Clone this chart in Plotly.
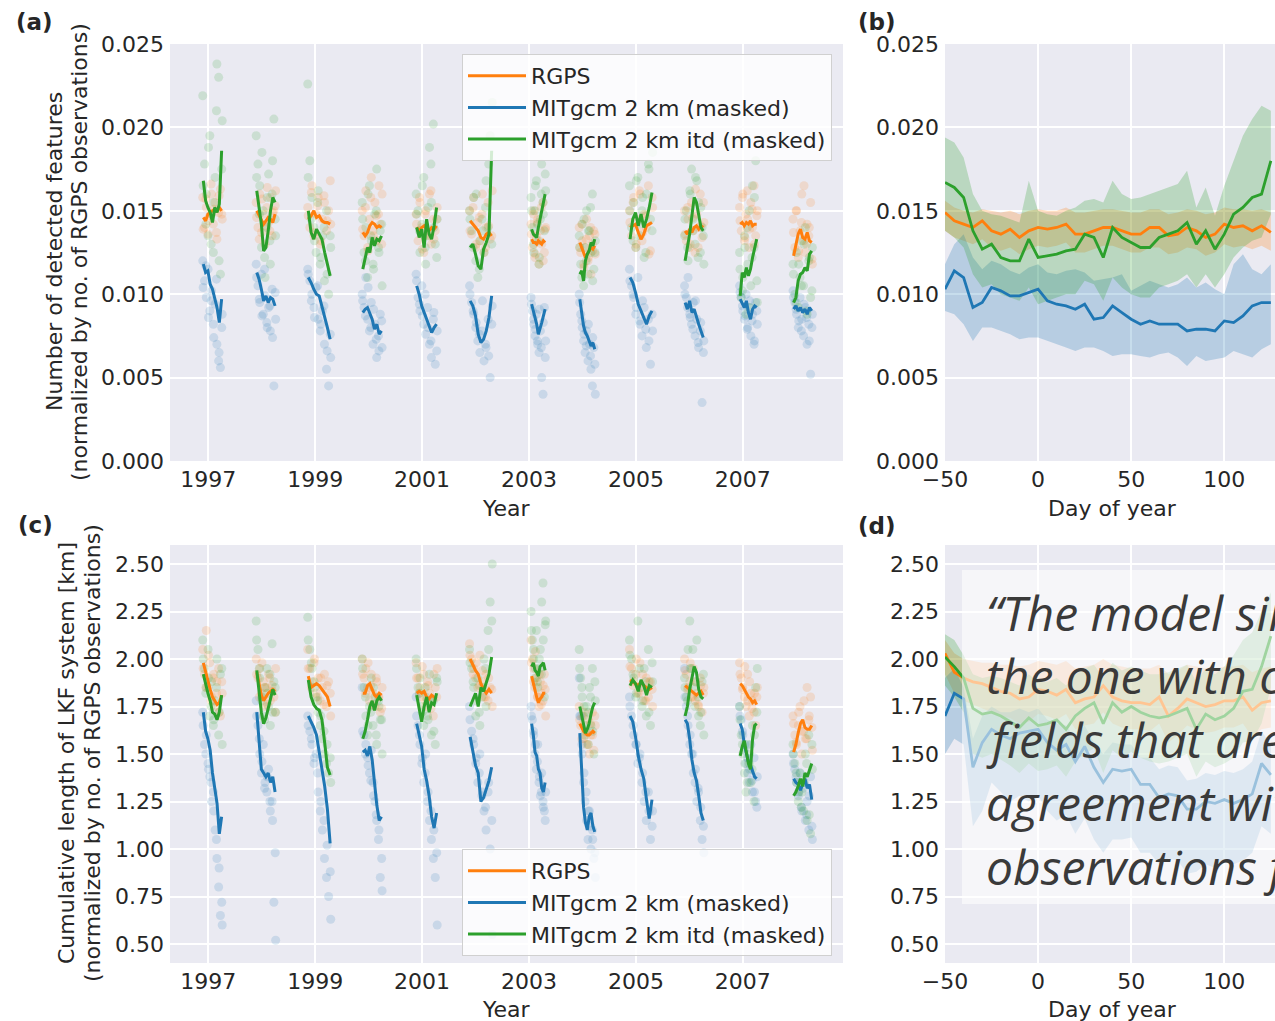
import numpy as np
import plotly.graph_objects as go

W, H = 1275, 1021
C_O, C_B, C_G = "#ff7f0e", "#1f77b4", "#2ca02c"
TXT = "#262626"
FONT = "DejaVu Sans"

season_years = [1997, 1998, 1999, 2000, 2001, 2002, 2003, 2004, 2005, 2006, 2007, 2008]
season_start_doy = [-34, -34, -47, -40, -37, -37, 18, -18, -40, -29, -18, -18]
season_end_doy = [91, 91, 102, 88, 99, 110, 110, 84, 110, 95, 95, 106]
year_ticks = [1997, 1999, 2001, 2003, 2005, 2007]

a_rgps_line = [
    [0.0146, 0.0144, 0.0148, 0.0149, 0.0150, 0.0151, 0.0150, 0.0152, 0.0150],
    [0.0150, 0.0147, 0.0144, 0.0142, 0.0144, 0.0146, 0.0145, 0.0143, 0.0148],
    [0.0145, 0.0147, 0.0150, 0.0146, 0.0147, 0.0144, 0.0143, 0.0143, 0.0142],
    [0.0137, 0.0135, 0.0137, 0.0141, 0.0143, 0.0142, 0.0140, 0.0141, 0.0140],
    [0.0140, 0.0138, 0.0140, 0.0141, 0.0139, 0.0138, 0.0140, 0.0139, 0.0141],
    [0.0144, 0.0142, 0.0140, 0.0138, 0.0134, 0.0133, 0.0136, 0.0137, 0.0135],
    [0.0133, 0.0131, 0.0131, 0.0130, 0.0132, 0.0131, 0.0130, 0.0132, 0.0131],
    [0.0131, 0.0128, 0.0126, 0.0122, 0.0124, 0.0126, 0.0128, 0.0127, 0.0129],
    [0.0140, 0.0141, 0.0142, 0.0137, 0.0133, 0.0136, 0.0141, 0.0142, 0.0143],
    [0.0138, 0.0136, 0.0139, 0.0137, 0.0140, 0.0141, 0.0139, 0.0141, 0.0140],
    [0.0142, 0.0143, 0.0141, 0.0143, 0.0142, 0.0144, 0.0141, 0.0142, 0.0142],
    [0.0123, 0.0130, 0.0136, 0.0139, 0.0134, 0.0133, 0.0137, 0.0132, 0.0131],
]
a_mit_line = [
    [0.0118, 0.0113, 0.0114, 0.0106, 0.0103, 0.0098, 0.0092, 0.0083, 0.0097],
    [0.0113, 0.0109, 0.0103, 0.0096, 0.0099, 0.0095, 0.0098, 0.0097, 0.0093],
    [0.0110, 0.0107, 0.0103, 0.0100, 0.0099, 0.0093, 0.0087, 0.0080, 0.0073],
    [0.0089, 0.0091, 0.0092, 0.0088, 0.0085, 0.0079, 0.0082, 0.0076, 0.0078],
    [0.0105, 0.0100, 0.0093, 0.0089, 0.0085, 0.0081, 0.0077, 0.0080, 0.0082],
    [0.0096, 0.0093, 0.0087, 0.0076, 0.0071, 0.0073, 0.0078, 0.0086, 0.0099],
    [0.0094, 0.0090, 0.0086, 0.0082, 0.0076, 0.0079, 0.0083, 0.0087, 0.0091],
    [0.0097, 0.0089, 0.0081, 0.0077, 0.0075, 0.0072, 0.0069, 0.0071, 0.0067],
    [0.0110, 0.0107, 0.0101, 0.0094, 0.0090, 0.0086, 0.0082, 0.0087, 0.0090],
    [0.0095, 0.0091, 0.0096, 0.0089, 0.0091, 0.0086, 0.0082, 0.0078, 0.0074],
    [0.0097, 0.0094, 0.0092, 0.0096, 0.0089, 0.0085, 0.0091, 0.0093, 0.0092],
    [0.0091, 0.0093, 0.0090, 0.0092, 0.0089, 0.0091, 0.0088, 0.0092, 0.0090],
]
a_itd_line = [
    [0.0168, 0.0156, 0.0152, 0.0149, 0.0143, 0.0152, 0.0149, 0.0154, 0.0186],
    [0.0162, 0.0152, 0.0142, 0.0126, 0.0128, 0.0138, 0.0150, 0.0158, 0.0155],
    [0.0150, 0.0137, 0.0133, 0.0139, 0.0136, 0.0133, 0.0125, 0.0117, 0.0111],
    [0.0115, 0.0122, 0.0128, 0.0125, 0.0134, 0.0129, 0.0133, 0.0132, 0.0135],
    [0.0140, 0.0134, 0.0139, 0.0128, 0.0145, 0.0136, 0.0133, 0.0141, 0.0152],
    [0.0128, 0.0130, 0.0124, 0.0117, 0.0115, 0.0127, 0.0131, 0.0136, 0.0186],
    [0.0139, 0.0136, 0.0135, 0.0134, 0.0140, 0.0145, 0.0150, 0.0155, 0.0160],
    [0.0112, 0.0114, 0.0108, 0.0120, 0.0124, 0.0126, 0.0131, 0.0129, 0.0133],
    [0.0133, 0.0145, 0.0149, 0.0141, 0.0148, 0.0140, 0.0145, 0.0152, 0.0161],
    [0.0120, 0.0127, 0.0136, 0.0147, 0.0158, 0.0155, 0.0146, 0.0140, 0.0138],
    [0.0099, 0.0113, 0.0110, 0.0116, 0.0111, 0.0115, 0.0122, 0.0128, 0.0133],
    [0.0095, 0.0098, 0.0108, 0.0112, 0.0113, 0.0116, 0.0114, 0.0124, 0.0126],
]
a_rgps_pts = [
    [0.0158, 0.0140, 0.0152, 0.0136, 0.0147, 0.0160, 0.0142, 0.0155, 0.0133, 0.0149, 0.0163, 0.0145],
    [0.0155, 0.0140, 0.0160, 0.0137, 0.0148, 0.0130, 0.0152, 0.0143, 0.0158, 0.0135, 0.0150, 0.0162],
    [0.0152, 0.0140, 0.0165, 0.0135, 0.0148, 0.0158, 0.0130, 0.0145, 0.0155, 0.0138, 0.0150, 0.0142],
    [0.0150, 0.0135, 0.0162, 0.0128, 0.0145, 0.0170, 0.0138, 0.0155, 0.0132, 0.0148, 0.0142, 0.0160],
    [0.0148, 0.0132, 0.0155, 0.0140, 0.0125, 0.0150, 0.0136, 0.0160, 0.0130, 0.0145, 0.0138, 0.0152],
    [0.0150, 0.0136, 0.0158, 0.0128, 0.0143, 0.0132, 0.0148, 0.0125, 0.0140, 0.0155, 0.0133, 0.0162],
    [0.0142, 0.0128, 0.0150, 0.0122, 0.0135, 0.0145, 0.0118, 0.0138, 0.0130, 0.0155, 0.0125, 0.0140],
    [0.0140, 0.0125, 0.0132, 0.0118, 0.0128, 0.0145, 0.0120, 0.0135, 0.0112, 0.0130, 0.0138, 0.0124],
    [0.0150, 0.0135, 0.0158, 0.0128, 0.0145, 0.0160, 0.0132, 0.0148, 0.0140, 0.0165, 0.0126, 0.0152],
    [0.0150, 0.0132, 0.0145, 0.0128, 0.0155, 0.0138, 0.0125, 0.0148, 0.0140, 0.0160, 0.0134, 0.0143],
    [0.0152, 0.0138, 0.0160, 0.0132, 0.0148, 0.0145, 0.0128, 0.0155, 0.0140, 0.0165, 0.0135, 0.0150],
    [0.0145, 0.0128, 0.0150, 0.0122, 0.0138, 0.0160, 0.0132, 0.0125, 0.0142, 0.0135, 0.0155, 0.0118],
]
a_rgps_pts2 = [
    [0.0139, 0.0157, 0.0144, 0.0166, 0.0151, 0.0137, 0.0159, 0.0148],
    [0.0146, 0.0133, 0.0157, 0.0141, 0.0164, 0.0138, 0.0149, 0.0153],
    [0.0147, 0.0161, 0.0137, 0.0153, 0.0132, 0.0159, 0.0144, 0.0168],
    [0.0139, 0.0152, 0.0126, 0.0158, 0.0135, 0.0147, 0.0165, 0.0130],
    [0.0142, 0.0158, 0.0127, 0.0148, 0.0135, 0.0162, 0.0133, 0.0145],
    [0.0138, 0.0152, 0.0130, 0.0146, 0.0160, 0.0128, 0.0141, 0.0135],
    [0.0136, 0.0148, 0.0124, 0.0143, 0.0132, 0.0152, 0.0120, 0.0139],
    [0.0128, 0.0142, 0.0116, 0.0133, 0.0122, 0.0140, 0.0126, 0.0136],
    [0.0143, 0.0155, 0.0130, 0.0162, 0.0137, 0.0147, 0.0124, 0.0158],
    [0.0136, 0.0152, 0.0130, 0.0146, 0.0163, 0.0128, 0.0141, 0.0155],
    [0.0144, 0.0158, 0.0134, 0.0162, 0.0139, 0.0151, 0.0130, 0.0147],
    [0.0137, 0.0150, 0.0126, 0.0143, 0.0165, 0.0130, 0.0140, 0.0121],
]
a_mit_pts = [
    [0.0120, 0.0108, 0.0098, 0.0115, 0.0090, 0.0102, 0.0082, 0.0094, 0.0070, 0.0060, 0.0056, 0.0088],
    [0.0118, 0.0105, 0.0095, 0.0112, 0.0088, 0.0099, 0.0083, 0.0092, 0.0078, 0.0103, 0.0045, 0.0085],
    [0.0115, 0.0108, 0.0100, 0.0092, 0.0104, 0.0085, 0.0078, 0.0090, 0.0070, 0.0055, 0.0045, 0.0062],
    [0.0100, 0.0092, 0.0110, 0.0085, 0.0078, 0.0095, 0.0070, 0.0082, 0.0062, 0.0075, 0.0088, 0.0068],
    [0.0112, 0.0098, 0.0090, 0.0105, 0.0082, 0.0076, 0.0092, 0.0070, 0.0062, 0.0085, 0.0058, 0.0078],
    [0.0105, 0.0095, 0.0088, 0.0080, 0.0072, 0.0065, 0.0078, 0.0060, 0.0068, 0.0085, 0.0050, 0.0093],
    [0.0098, 0.0090, 0.0082, 0.0075, 0.0088, 0.0070, 0.0065, 0.0078, 0.0050, 0.0040, 0.0092, 0.0072],
    [0.0100, 0.0088, 0.0080, 0.0072, 0.0065, 0.0078, 0.0060, 0.0070, 0.0055, 0.0045, 0.0068, 0.0040],
    [0.0115, 0.0105, 0.0098, 0.0088, 0.0110, 0.0082, 0.0075, 0.0092, 0.0068, 0.0085, 0.0058, 0.0078],
    [0.0105, 0.0098, 0.0110, 0.0088, 0.0082, 0.0095, 0.0075, 0.0085, 0.0068, 0.0078, 0.0035, 0.0072],
    [0.0105, 0.0098, 0.0090, 0.0085, 0.0100, 0.0080, 0.0092, 0.0075, 0.0088, 0.0070, 0.0095, 0.0082],
    [0.0102, 0.0095, 0.0088, 0.0080, 0.0098, 0.0085, 0.0075, 0.0092, 0.0070, 0.0082, 0.0052, 0.0088],
]
a_mit_pts2 = [
    [0.0104, 0.0117, 0.0086, 0.0096, 0.0074, 0.0109, 0.0065, 0.0080],
    [0.0110, 0.0097, 0.0087, 0.0115, 0.0080, 0.0093, 0.0074, 0.0101],
    [0.0112, 0.0096, 0.0086, 0.0105, 0.0082, 0.0093, 0.0066, 0.0076],
    [0.0096, 0.0087, 0.0104, 0.0080, 0.0091, 0.0073, 0.0066, 0.0084],
    [0.0108, 0.0094, 0.0087, 0.0100, 0.0080, 0.0072, 0.0089, 0.0066],
    [0.0100, 0.0090, 0.0083, 0.0076, 0.0096, 0.0070, 0.0063, 0.0082],
    [0.0094, 0.0085, 0.0079, 0.0072, 0.0091, 0.0068, 0.0083, 0.0062],
    [0.0095, 0.0084, 0.0076, 0.0069, 0.0082, 0.0063, 0.0074, 0.0058],
    [0.0108, 0.0100, 0.0092, 0.0084, 0.0096, 0.0079, 0.0072, 0.0088],
    [0.0100, 0.0092, 0.0086, 0.0079, 0.0096, 0.0071, 0.0083, 0.0065],
    [0.0101, 0.0093, 0.0087, 0.0079, 0.0096, 0.0084, 0.0072, 0.0090],
    [0.0098, 0.0091, 0.0084, 0.0078, 0.0094, 0.0086, 0.0072, 0.0080],
]
a_itd_pts = [
    [0.0219, 0.0178, 0.0160, 0.0135, 0.0195, 0.0148, 0.0125, 0.0170, 0.0238, 0.0230, 0.0112, 0.0204],
    [0.0195, 0.0178, 0.0165, 0.0128, 0.0150, 0.0110, 0.0140, 0.0172, 0.0118, 0.0160, 0.0205, 0.0135],
    [0.0226, 0.0180, 0.0158, 0.0140, 0.0125, 0.0162, 0.0118, 0.0135, 0.0108, 0.0150, 0.0100, 0.0128],
    [0.0155, 0.0125, 0.0140, 0.0110, 0.0165, 0.0132, 0.0118, 0.0148, 0.0175, 0.0128, 0.0138, 0.0105],
    [0.0160, 0.0150, 0.0125, 0.0142, 0.0170, 0.0118, 0.0135, 0.0188, 0.0155, 0.0202, 0.0130, 0.0145],
    [0.0150, 0.0138, 0.0158, 0.0120, 0.0110, 0.0132, 0.0145, 0.0125, 0.0168, 0.0140, 0.0195, 0.0215],
    [0.0158, 0.0140, 0.0125, 0.0150, 0.0168, 0.0132, 0.0118, 0.0145, 0.0178, 0.0155, 0.0138, 0.0162],
    [0.0135, 0.0118, 0.0142, 0.0105, 0.0128, 0.0150, 0.0112, 0.0138, 0.0125, 0.0160, 0.0115, 0.0132],
    [0.0165, 0.0140, 0.0155, 0.0128, 0.0170, 0.0135, 0.0150, 0.0122, 0.0160, 0.0178, 0.0145, 0.0185],
    [0.0135, 0.0150, 0.0120, 0.0162, 0.0175, 0.0145, 0.0130, 0.0168, 0.0155, 0.0125, 0.0140, 0.0118],
    [0.0125, 0.0098, 0.0110, 0.0135, 0.0088, 0.0118, 0.0150, 0.0105, 0.0165, 0.0128, 0.0180, 0.0095],
    [0.0118, 0.0100, 0.0125, 0.0092, 0.0110, 0.0132, 0.0105, 0.0140, 0.0088, 0.0120, 0.0098, 0.0128],
]
a_itd_pts2 = [
    [0.0165, 0.0142, 0.0188, 0.0130, 0.0155, 0.0210, 0.0120, 0.0175],
    [0.0170, 0.0148, 0.0185, 0.0122, 0.0158, 0.0132, 0.0180, 0.0145],
    [0.0170, 0.0145, 0.0132, 0.0155, 0.0122, 0.0140, 0.0112, 0.0135],
    [0.0145, 0.0120, 0.0160, 0.0135, 0.0115, 0.0150, 0.0125, 0.0142],
    [0.0148, 0.0138, 0.0165, 0.0128, 0.0152, 0.0178, 0.0140, 0.0122],
    [0.0145, 0.0128, 0.0160, 0.0115, 0.0138, 0.0152, 0.0178, 0.0130],
    [0.0150, 0.0130, 0.0165, 0.0142, 0.0122, 0.0160, 0.0148, 0.0172],
    [0.0128, 0.0110, 0.0145, 0.0120, 0.0138, 0.0152, 0.0108, 0.0125],
    [0.0150, 0.0132, 0.0168, 0.0142, 0.0158, 0.0125, 0.0175, 0.0138],
    [0.0145, 0.0128, 0.0160, 0.0138, 0.0170, 0.0122, 0.0152, 0.0135],
    [0.0115, 0.0102, 0.0128, 0.0140, 0.0092, 0.0122, 0.0158, 0.0108],
    [0.0112, 0.0095, 0.0118, 0.0105, 0.0130, 0.0090, 0.0122, 0.0102],
]

c_rgps_line = [
    [1.98, 1.93, 1.88, 1.84, 1.80, 1.78, 1.76, 1.77, 1.81],
    [1.93, 1.87, 1.81, 1.78, 1.80, 1.82, 1.83, 1.84, 1.83],
    [1.91, 1.85, 1.86, 1.87, 1.86, 1.84, 1.82, 1.80, 1.75],
    [1.82, 1.82, 1.86, 1.87, 1.84, 1.81, 1.80, 1.82, 1.81],
    [1.82, 1.83, 1.82, 1.83, 1.80, 1.79, 1.81, 1.80, 1.79],
    [2.00, 1.97, 1.94, 1.92, 1.87, 1.84, 1.82, 1.84, 1.82],
    [1.91, 1.87, 1.83, 1.80, 1.77, 1.79, 1.80, 1.82, 1.82],
    [1.66, 1.64, 1.62, 1.61, 1.60, 1.60, 1.61, 1.62, 1.61],
    [1.89, 1.88, 1.87, 1.86, 1.88, 1.86, 1.85, 1.84, 1.85],
    [1.86, 1.85, 1.84, 1.83, 1.82, 1.81, 1.82, 1.83, 1.81],
    [1.87, 1.86, 1.84, 1.82, 1.80, 1.79, 1.77, 1.78, 1.76],
    [1.51, 1.55, 1.61, 1.66, 1.68, 1.64, 1.63, 1.63, 1.65],
]
c_mit_line = [
    [1.72, 1.62, 1.58, 1.52, 1.40, 1.33, 1.24, 1.08, 1.17],
    [1.72, 1.58, 1.42, 1.40, 1.38, 1.40, 1.35, 1.38, 1.30],
    [1.70, 1.67, 1.64, 1.60, 1.51, 1.42, 1.33, 1.21, 1.03],
    [1.51, 1.52, 1.49, 1.54, 1.47, 1.35, 1.23, 1.15, 1.17],
    [1.66, 1.60, 1.54, 1.42, 1.36, 1.28, 1.17, 1.11, 1.19],
    [1.59, 1.51, 1.44, 1.40, 1.25, 1.27, 1.31, 1.36, 1.43],
    [1.66, 1.60, 1.51, 1.49, 1.42, 1.40, 1.32, 1.30, 1.35],
    [1.61, 1.40, 1.22, 1.14, 1.10, 1.17, 1.19, 1.12, 1.09],
    [1.70, 1.67, 1.59, 1.49, 1.42, 1.37, 1.26, 1.16, 1.26],
    [1.68, 1.66, 1.58, 1.47, 1.40, 1.36, 1.28, 1.19, 1.15],
    [1.66, 1.63, 1.55, 1.50, 1.46, 1.44, 1.41, 1.38, 1.37],
    [1.37, 1.35, 1.34, 1.31, 1.34, 1.37, 1.32, 1.34, 1.26],
]
c_itd_line = [
    [1.92, 1.86, 1.82, 1.78, 1.72, 1.71, 1.68, 1.72, 1.81],
    [1.94, 1.83, 1.72, 1.66, 1.69, 1.74, 1.79, 1.84, 1.81],
    [1.89, 1.80, 1.76, 1.74, 1.73, 1.68, 1.56, 1.43, 1.39],
    [1.58, 1.62, 1.68, 1.75, 1.78, 1.73, 1.78, 1.80, 1.78],
    [1.81, 1.74, 1.67, 1.75, 1.80, 1.72, 1.77, 1.76, 1.82],
    [1.75, 1.79, 1.82, 1.75, 1.85, 1.83, 1.88, 1.92, 2.01],
    [1.96, 1.98, 1.94, 1.93, 1.91, 1.96, 1.97, 1.98, 1.94],
    [1.75, 1.70, 1.65, 1.61, 1.63, 1.66, 1.71, 1.75, 1.77],
    [1.86, 1.89, 1.87, 1.83, 1.89, 1.86, 1.81, 1.86, 1.85],
    [1.70, 1.75, 1.84, 1.91, 1.96, 1.93, 1.84, 1.80, 1.79],
    [1.49, 1.54, 1.57, 1.51, 1.45, 1.42, 1.58, 1.65, 1.66],
    [1.28, 1.30, 1.33, 1.37, 1.33, 1.40, 1.38, 1.42, 1.45],
]
c_rgps_pts = [
    [2.05, 1.92, 2.15, 1.85, 1.98, 1.80, 1.90, 1.75, 1.88, 1.95, 1.70, 1.82],
    [2.00, 1.90, 1.95, 1.82, 1.88, 1.75, 1.85, 1.92, 1.78, 1.86, 1.80, 1.95],
    [2.05, 1.95, 1.88, 1.98, 1.82, 1.90, 1.78, 1.85, 1.92, 1.75, 1.88, 1.70],
    [2.00, 1.90, 1.95, 1.85, 1.78, 1.92, 1.82, 1.75, 1.88, 1.80, 1.72, 1.85],
    [1.98, 1.90, 1.85, 1.80, 1.92, 1.75, 1.88, 1.82, 1.78, 1.70, 1.85, 1.95],
    [2.08, 2.00, 1.95, 1.90, 1.85, 2.02, 1.88, 1.80, 1.92, 1.78, 1.85, 1.75],
    [2.10, 2.00, 1.95, 1.85, 1.90, 1.80, 1.75, 1.88, 1.82, 1.78, 1.92, 1.70],
    [1.75, 1.65, 1.70, 1.58, 1.62, 1.55, 1.68, 1.50, 1.60, 1.72, 1.52, 1.65],
    [2.05, 1.95, 1.88, 1.92, 1.82, 1.98, 1.85, 1.78, 1.90, 1.80, 1.88, 1.75],
    [2.00, 1.92, 1.85, 1.88, 1.80, 1.95, 1.78, 1.82, 1.75, 1.90, 1.72, 1.85],
    [1.98, 1.90, 1.85, 1.80, 1.75, 1.92, 1.70, 1.82, 1.78, 1.72, 1.65, 1.85],
    [1.70, 1.60, 1.55, 1.65, 1.75, 1.50, 1.62, 1.58, 1.85, 1.68, 1.80, 1.52],
]
c_rgps_pts2 = [
    [1.95, 1.85, 2.02, 1.78, 1.92, 1.82, 1.72, 1.88],
    [1.92, 1.80, 1.98, 1.85, 1.76, 1.90, 1.83, 1.72],
    [1.95, 1.85, 2.00, 1.80, 1.90, 1.76, 1.86, 1.82],
    [1.92, 1.82, 1.98, 1.86, 1.76, 1.90, 1.80, 1.74],
    [1.90, 1.82, 1.96, 1.78, 1.86, 1.74, 1.92, 1.80],
    [2.02, 1.92, 1.98, 1.86, 1.94, 1.80, 1.90, 1.84],
    [1.98, 1.88, 2.04, 1.80, 1.92, 1.76, 1.86, 1.84],
    [1.68, 1.58, 1.72, 1.62, 1.55, 1.66, 1.60, 1.70],
    [1.96, 1.86, 2.00, 1.82, 1.92, 1.78, 1.88, 1.84],
    [1.94, 1.84, 1.98, 1.80, 1.88, 1.76, 1.86, 1.82],
    [1.92, 1.84, 1.96, 1.78, 1.88, 1.74, 1.82, 1.80],
    [1.66, 1.56, 1.72, 1.62, 1.78, 1.58, 1.70, 1.64],
]
c_mit_pts = [
    [1.72, 1.55, 1.60, 1.45, 1.38, 1.25, 1.30, 1.10, 0.95, 0.80, 0.65, 0.60],
    [1.78, 1.65, 1.50, 1.40, 1.55, 1.35, 1.30, 1.42, 1.20, 1.25, 0.72, 0.52],
    [1.70, 1.62, 1.55, 1.45, 1.50, 1.30, 1.20, 1.10, 0.95, 0.85, 0.75, 0.63],
    [1.85, 1.60, 1.55, 1.48, 1.40, 1.52, 1.35, 1.25, 1.15, 1.05, 0.85, 0.78],
    [1.80, 1.65, 1.55, 1.45, 1.35, 1.50, 1.25, 1.15, 1.05, 0.95, 0.85, 0.60],
    [1.75, 1.62, 1.55, 1.45, 1.35, 1.50, 1.28, 1.20, 1.10, 1.30, 1.00, 0.55],
    [1.75, 1.68, 1.60, 1.50, 1.42, 1.55, 1.35, 1.28, 1.40, 1.25, 1.20, 1.30],
    [1.90, 1.70, 1.50, 1.35, 1.25, 1.15, 1.05, 1.20, 1.00, 1.10, 0.95, 0.85],
    [1.80, 1.70, 1.60, 1.55, 1.45, 1.50, 1.35, 1.25, 1.15, 1.30, 1.05, 1.20],
    [1.95, 1.75, 1.65, 1.55, 1.50, 1.40, 1.35, 1.25, 1.30, 1.15, 1.05, 0.98],
    [1.75, 1.68, 1.60, 1.52, 1.45, 1.40, 1.35, 1.55, 1.30, 1.48, 1.25, 1.38],
    [1.50, 1.42, 1.35, 1.28, 1.40, 1.20, 1.32, 1.15, 1.25, 1.10, 1.38, 1.05],
]
c_mit_pts2 = [
    [1.65, 1.50, 1.42, 1.35, 1.20, 1.05, 0.90, 0.72],
    [1.70, 1.58, 1.46, 1.32, 1.38, 1.25, 1.15, 0.98],
    [1.65, 1.58, 1.48, 1.40, 1.25, 1.15, 1.02, 0.88],
    [1.62, 1.50, 1.44, 1.36, 1.28, 1.18, 1.10, 0.95],
    [1.70, 1.60, 1.48, 1.40, 1.30, 1.20, 1.10, 0.98],
    [1.68, 1.58, 1.48, 1.40, 1.30, 1.22, 1.35, 1.15],
    [1.70, 1.62, 1.55, 1.46, 1.38, 1.30, 1.22, 1.15],
    [1.70, 1.55, 1.40, 1.30, 1.20, 1.12, 1.05, 0.98],
    [1.75, 1.65, 1.55, 1.48, 1.40, 1.30, 1.20, 1.12],
    [1.80, 1.70, 1.60, 1.50, 1.42, 1.32, 1.22, 1.12],
    [1.70, 1.62, 1.55, 1.48, 1.42, 1.36, 1.30, 1.22],
    [1.45, 1.38, 1.30, 1.22, 1.35, 1.18, 1.28, 1.12],
]
c_itd_pts = [
    [2.10, 1.95, 1.85, 2.05, 1.70, 1.88, 1.65, 1.78, 2.00, 1.60, 1.92, 1.55],
    [2.20, 2.05, 1.90, 1.80, 1.70, 1.85, 1.95, 1.75, 1.65, 2.08, 1.88, 1.72],
    [2.22, 2.05, 1.95, 1.88, 1.80, 1.72, 1.65, 1.58, 1.50, 1.45, 1.40, 1.35],
    [2.00, 1.85, 1.70, 1.60, 1.75, 1.90, 1.65, 1.80, 1.55, 1.78, 1.68, 1.50],
    [2.00, 1.85, 1.90, 1.75, 1.65, 1.80, 1.70, 1.92, 1.60, 1.78, 1.55, 1.88],
    [2.05, 1.95, 1.85, 1.70, 1.90, 1.65, 1.80, 2.00, 1.75, 2.15, 2.30, 2.50],
    [2.25, 2.10, 2.00, 1.90, 2.15, 1.85, 1.95, 2.05, 2.30, 2.40, 1.80, 2.20],
    [2.05, 1.90, 1.80, 1.70, 1.60, 1.75, 1.55, 1.85, 1.65, 1.95, 1.50, 1.78],
    [2.10, 2.00, 1.90, 1.80, 2.20, 1.85, 1.75, 1.95, 1.70, 2.05, 1.65, 1.88],
    [1.90, 1.80, 2.05, 2.20, 1.95, 1.85, 1.75, 2.10, 1.70, 1.65, 1.88, 1.60],
    [1.75, 1.60, 1.50, 1.40, 1.30, 1.55, 1.45, 1.35, 1.65, 1.25, 1.85, 1.95],
    [1.55, 1.45, 1.35, 1.25, 1.40, 1.30, 1.20, 1.50, 1.15, 1.60, 1.08, 1.42],
]
c_itd_pts2 = [
    [2.00, 1.82, 1.90, 1.75, 1.68, 1.85, 1.72, 1.95],
    [2.10, 1.95, 1.78, 1.68, 1.82, 1.92, 1.72, 1.85],
    [2.10, 1.98, 1.85, 1.78, 1.70, 1.62, 1.55, 1.48],
    [1.95, 1.80, 1.65, 1.72, 1.85, 1.60, 1.75, 1.68],
    [1.95, 1.82, 1.72, 1.85, 1.68, 1.78, 1.62, 1.90],
    [1.98, 1.88, 1.78, 1.72, 1.85, 1.95, 2.05, 2.20],
    [2.15, 2.05, 1.95, 1.88, 2.00, 1.92, 2.10, 2.18],
    [1.95, 1.85, 1.75, 1.65, 1.72, 1.80, 1.62, 1.88],
    [2.02, 1.92, 1.82, 1.95, 1.78, 1.88, 1.72, 1.98],
    [1.85, 1.78, 1.95, 2.05, 1.88, 1.80, 1.72, 1.92],
    [1.68, 1.55, 1.45, 1.35, 1.50, 1.42, 1.60, 1.72],
    [1.50, 1.40, 1.30, 1.22, 1.35, 1.45, 1.18, 1.55],
]

doy = [-50, -45, -40, -35, -30, -25, -20, -15, -10, -5, 0, 5, 10, 15, 20, 25, 30, 35,
       40, 45, 50, 55, 60, 65, 70, 75, 80, 85, 90, 95, 100, 105, 110, 115, 120, 125]
doy_ticks = [-50, 0, 50, 100]

b_rgps = [0.0149, 0.0144, 0.0142, 0.0140, 0.0144, 0.0138, 0.0136, 0.0139, 0.0134, 0.0138, 0.0140, 0.0139,
          0.0140, 0.0142, 0.0136, 0.0136, 0.0138, 0.0140, 0.0140, 0.0138, 0.0136, 0.0136, 0.0140, 0.0140,
          0.0135, 0.0136, 0.0140, 0.0138, 0.0134, 0.0136, 0.0142, 0.0140, 0.0141, 0.0138, 0.0141, 0.0137]
b_rgps_hi = [0.0156, 0.0152, 0.0150, 0.0149, 0.0151, 0.0150, 0.0149, 0.0150, 0.0148, 0.0150, 0.0151, 0.0150,
             0.0150, 0.0152, 0.0149, 0.0149, 0.0150, 0.0151, 0.0151, 0.0150, 0.0149, 0.0149, 0.0151, 0.0151,
             0.0148, 0.0149, 0.0151, 0.0150, 0.0148, 0.0149, 0.0152, 0.0151, 0.0151, 0.0150, 0.0151, 0.0149]
b_rgps_lo = [0.0138, 0.0134, 0.0132, 0.0130, 0.0133, 0.0128, 0.0126, 0.0128, 0.0124, 0.0127, 0.0129, 0.0128,
             0.0129, 0.0131, 0.0125, 0.0125, 0.0127, 0.0129, 0.0129, 0.0127, 0.0125, 0.0125, 0.0128, 0.0128,
             0.0124, 0.0125, 0.0128, 0.0127, 0.0123, 0.0125, 0.0130, 0.0128, 0.0129, 0.0127, 0.0129, 0.0126]
b_mit = [0.0103, 0.0114, 0.0110, 0.0092, 0.0095, 0.0104, 0.0102, 0.0099, 0.0099, 0.0101, 0.0103, 0.0096,
         0.0094, 0.0093, 0.0091, 0.0094, 0.0085, 0.0086, 0.0093, 0.0089, 0.0085, 0.0082, 0.0084, 0.0082,
         0.0082, 0.0082, 0.0078, 0.0079, 0.0079, 0.0078, 0.0084, 0.0083, 0.0087, 0.0093, 0.0095, 0.0095]
b_mit_hi = [0.0118, 0.0130, 0.0136, 0.0122, 0.0115, 0.0120, 0.0118, 0.0114, 0.0112, 0.0116, 0.0118, 0.0113,
            0.0112, 0.0114, 0.0115, 0.0113, 0.0108, 0.0109, 0.0110, 0.0112, 0.0102, 0.0105, 0.0108, 0.0106,
            0.0104, 0.0106, 0.0110, 0.0104, 0.0107, 0.0103, 0.0100, 0.0118, 0.0124, 0.0115, 0.0112, 0.0118]
b_mit_lo = [0.0090, 0.0088, 0.0082, 0.0072, 0.0080, 0.0080, 0.0078, 0.0076, 0.0073, 0.0074, 0.0074, 0.0072,
            0.0070, 0.0068, 0.0066, 0.0068, 0.0068, 0.0066, 0.0063, 0.0064, 0.0064, 0.0063, 0.0062, 0.0064,
            0.0065, 0.0062, 0.0057, 0.0063, 0.0060, 0.0061, 0.0062, 0.0066, 0.0064, 0.0062, 0.0067, 0.0070]
b_itd = [0.0167, 0.0164, 0.0158, 0.0138, 0.0127, 0.0130, 0.0122, 0.0120, 0.0120, 0.0133, 0.0122, 0.0123,
         0.0124, 0.0126, 0.0127, 0.0136, 0.0134, 0.0122, 0.0140, 0.0134, 0.0131, 0.0128, 0.0128, 0.0134,
         0.0136, 0.0138, 0.0143, 0.0130, 0.0138, 0.0127, 0.0136, 0.0148, 0.0152, 0.0158, 0.0160, 0.0180]
b_itd_hi = [0.0194, 0.0191, 0.0182, 0.0160, 0.0150, 0.0148, 0.0147, 0.0145, 0.0143, 0.0168, 0.0150, 0.0148,
            0.0147, 0.0150, 0.0152, 0.0156, 0.0157, 0.0155, 0.0168, 0.0160, 0.0157, 0.0158, 0.0160, 0.0162,
            0.0164, 0.0166, 0.0174, 0.0152, 0.0164, 0.0147, 0.0165, 0.0180, 0.0195, 0.0205, 0.0213, 0.0210]
b_itd_lo = [0.0138, 0.0134, 0.0128, 0.0112, 0.0104, 0.0106, 0.0100, 0.0098, 0.0096, 0.0104, 0.0094, 0.0096,
            0.0098, 0.0100, 0.0100, 0.0108, 0.0106, 0.0096, 0.0110, 0.0104, 0.0100, 0.0098, 0.0098, 0.0104,
            0.0106, 0.0108, 0.0112, 0.0104, 0.0112, 0.0104, 0.0112, 0.0122, 0.0128, 0.0132, 0.0134, 0.0148]

d_rgps = [2.03, 1.93, 1.90, 1.88, 1.87, 1.85, 1.83, 1.82, 1.79, 1.80, 1.84, 1.83, 1.81, 1.84, 1.77, 1.79,
          1.80, 1.86, 1.80, 1.78, 1.77, 1.77, 1.76, 1.80, 1.70, 1.74, 1.79, 1.77, 1.75, 1.76, 1.78, 1.78,
          1.80, 1.73, 1.77, 1.78]
d_rgps_hi = [2.10, 2.03, 2.00, 1.99, 1.98, 1.98, 1.97, 1.97, 1.96, 1.97, 1.99, 1.98, 1.97, 1.99, 1.95, 1.96,
             1.97, 2.00, 1.97, 1.96, 1.95, 1.95, 1.95, 1.97, 1.92, 1.94, 1.97, 1.96, 1.95, 1.95, 1.96, 1.96,
             1.97, 1.93, 1.95, 1.96]
d_rgps_lo = [1.92, 1.82, 1.78, 1.76, 1.74, 1.72, 1.70, 1.69, 1.66, 1.67, 1.71, 1.70, 1.68, 1.71, 1.63, 1.65,
             1.66, 1.72, 1.66, 1.64, 1.63, 1.63, 1.62, 1.66, 1.56, 1.60, 1.65, 1.63, 1.61, 1.62, 1.64, 1.64,
             1.66, 1.59, 1.63, 1.64]
d_mit = [1.70, 1.82, 1.79, 1.43, 1.56, 1.63, 1.60, 1.58, 1.61, 1.62, 1.63, 1.56, 1.52, 1.55, 1.46, 1.54,
         1.43, 1.35, 1.42, 1.41, 1.42, 1.34, 1.34, 1.27, 1.29, 1.28, 1.21, 1.21, 1.25, 1.24, 1.26, 1.24,
         1.26, 1.29, 1.45, 1.39]
d_mit_hi = [1.90, 1.95, 1.85, 1.58, 1.70, 1.75, 1.72, 1.72, 1.74, 1.72, 1.74, 1.68, 1.66, 1.65, 1.58, 1.65,
            1.56, 1.50, 1.56, 1.55, 1.55, 1.48, 1.48, 1.42, 1.44, 1.43, 1.36, 1.37, 1.40, 1.39, 1.41, 1.40,
            1.42, 1.46, 1.62, 1.55]
d_mit_lo = [1.50, 1.58, 1.55, 1.12, 1.20, 1.35, 1.30, 1.25, 1.28, 1.25, 1.28, 1.20, 1.15, 1.18, 1.08, 1.16,
            1.05, 0.98, 1.05, 1.05, 1.06, 0.98, 0.98, 0.92, 0.95, 0.94, 0.87, 0.88, 0.92, 0.90, 0.93, 0.92,
            0.94, 0.98, 1.12, 1.08]
d_itd = [2.01, 1.96, 1.90, 1.74, 1.71, 1.72, 1.70, 1.67, 1.64, 1.69, 1.65, 1.66, 1.68, 1.63, 1.70, 1.74,
         1.77, 1.66, 1.77, 1.72, 1.75, 1.72, 1.70, 1.69, 1.70, 1.72, 1.74, 1.63, 1.71, 1.68, 1.70, 1.74,
         1.83, 1.84, 1.96, 2.12]
d_itd_hi = [2.13, 2.10, 2.02, 1.92, 1.90, 1.91, 1.90, 1.88, 1.86, 1.92, 1.88, 1.88, 1.90, 1.86, 1.92, 1.95,
            1.97, 1.90, 1.98, 1.94, 1.96, 1.94, 1.92, 1.92, 1.93, 1.95, 1.97, 1.88, 1.95, 1.92, 1.96, 2.02,
            2.10, 2.14, 2.25, 2.35]
d_itd_lo = [1.86, 1.80, 1.72, 1.50, 1.48, 1.50, 1.47, 1.44, 1.40, 1.45, 1.41, 1.42, 1.44, 1.38, 1.46, 1.50,
            1.53, 1.40, 1.52, 1.48, 1.51, 1.48, 1.46, 1.45, 1.46, 1.48, 1.50, 1.38, 1.46, 1.43, 1.45, 1.48,
            1.56, 1.57, 1.66, 1.85]

series_names = ["RGPS", "MITgcm 2 km (masked)", "MITgcm 2 km itd (masked)"]
series_colors = [C_O, C_B, C_G]
band_colors = ["rgba(255,127,14,0.25)", "rgba(31,119,180,0.25)", "rgba(44,160,44,0.25)"]

quote_lines = ["\u201cThe model simulation that performs best is",
               "the one with comparable deformation",
               "fields that are in good",
               "agreement with the",
               "observations from RGPS.\u201d"]


def season_xy(values, pad):
    xs, ys = [], []
    for yr, d0, d1, vals in zip(season_years, season_start_doy, season_end_doy, values):
        t = yr + np.linspace(d0 - pad, d1 + pad, len(vals)) / 365.25
        xs += list(t) + [None]
        ys += list(vals) + [None]
    return xs, ys


fig = go.Figure()

for (xa, ya, lines, pts, pts2, leg) in [
    ("x", "y", [a_rgps_line, a_mit_line, a_itd_line], [a_rgps_pts, a_mit_pts, a_itd_pts],
     [a_rgps_pts2, a_mit_pts2, a_itd_pts2], "legend"),
    ("x3", "y3", [c_rgps_line, c_mit_line, c_itd_line], [c_rgps_pts, c_mit_pts, c_itd_pts],
     [c_rgps_pts2, c_mit_pts2, c_itd_pts2], "legend2"),
]:
    for vals, vals2, col in zip(pts, pts2, series_colors):
        sx, sy = season_xy(vals, 4)
        sx2, sy2 = season_xy(vals2, 1)
        fig.add_trace(go.Scatter(x=sx + sx2, y=sy + sy2, mode="markers", xaxis=xa, yaxis=ya,
                                 marker=dict(color=col, size=9, opacity=0.16, line=dict(width=0)),
                                 showlegend=False, hoverinfo="skip"))
    for vals, col, name in zip(lines, series_colors, series_names):
        lx, ly = season_xy(vals, 0)
        fig.add_trace(go.Scatter(x=lx, y=ly, mode="lines", xaxis=xa, yaxis=ya, name=name,
                                 line=dict(color=col, width=3), legend=leg,
                                 legendgroup=leg + name, showlegend=True))

for (xa, ya, data) in [
    ("x2", "y2", [(b_rgps, b_rgps_lo, b_rgps_hi), (b_mit, b_mit_lo, b_mit_hi), (b_itd, b_itd_lo, b_itd_hi)]),
    ("x4", "y4", [(d_rgps, d_rgps_lo, d_rgps_hi), (d_mit, d_mit_lo, d_mit_hi), (d_itd, d_itd_lo, d_itd_hi)]),
]:
    for (m, lo, hi), bc in zip(data, band_colors):
        fig.add_trace(go.Scatter(x=doy + doy[::-1], y=hi + lo[::-1], mode="lines", fill="toself",
                                 fillcolor=bc, line=dict(width=0), xaxis=xa, yaxis=ya,
                                 showlegend=False, hoverinfo="skip"))
    for (m, lo, hi), col in zip(data, series_colors):
        fig.add_trace(go.Scatter(x=doy, y=m, mode="lines", line=dict(color=col, width=2.8),
                                 xaxis=xa, yaxis=ya, showlegend=False))


def px_x(p):
    return p / W


def px_y(p):
    return 1 - p / H


tickfont = dict(family=FONT, size=22, color=TXT)
ax_common = dict(showgrid=True, gridcolor="white", gridwidth=1.6, zeroline=False,
                 showline=False, ticks="", tickfont=tickfont, automargin=False)

year_range = [1997 - 38.3 / 53.45, 1997 + 634.7 / 53.45]
doy_range = [-50, -50 + 330 / 1.862]
ya_ticks = [0.0, 0.005, 0.010, 0.015, 0.020, 0.025]
yc_ticks = [0.50, 0.75, 1.00, 1.25, 1.50, 1.75, 2.00, 2.25, 2.50]

top_dom = [px_y(461), px_y(44)]
bot_dom = [px_y(963), px_y(545)]
left_dom = [px_x(170), px_x(843)]
right_dom = [px_x(945), 1.0]

xt = dict(ticklabelstandoff=3)
yt = dict(ticklabelstandoff=5)
legfont = dict(family=FONT, size=22, color=TXT)

fig.update_layout(
    width=W, height=H, margin=dict(l=0, r=0, t=0, b=0, autoexpand=False),
    paper_bgcolor="white", plot_bgcolor="#EAEAF2",
    font=dict(family=FONT, color=TXT),
    xaxis=dict(domain=left_dom, anchor="y", range=year_range, tickvals=year_ticks,
               ticktext=[str(v) for v in year_ticks], **ax_common, **xt),
    yaxis=dict(domain=top_dom, anchor="x", range=[0, 0.025], tickvals=ya_ticks,
               ticktext=["%.3f" % v for v in ya_ticks], **ax_common, **yt),
    xaxis2=dict(domain=right_dom, anchor="y2", range=doy_range, tickvals=doy_ticks,
                ticktext=[("\u2212%d" % -v) if v < 0 else str(v) for v in doy_ticks], **ax_common, **xt),
    yaxis2=dict(domain=top_dom, anchor="x2", range=[0, 0.025], tickvals=ya_ticks,
                ticktext=["%.3f" % v for v in ya_ticks], **ax_common, **yt),
    xaxis3=dict(domain=left_dom, anchor="y3", range=year_range, tickvals=year_ticks,
                ticktext=[str(v) for v in year_ticks], **ax_common, **xt),
    yaxis3=dict(domain=bot_dom, anchor="x3", range=[0.40, 2.60], tickvals=yc_ticks,
                ticktext=["%.2f" % v for v in yc_ticks], **ax_common, **yt),
    xaxis4=dict(domain=right_dom, anchor="y4", range=doy_range, tickvals=doy_ticks,
                ticktext=[("\u2212%d" % -v) if v < 0 else str(v) for v in doy_ticks], **ax_common, **xt),
    yaxis4=dict(domain=bot_dom, anchor="x4", range=[0.40, 2.60], tickvals=yc_ticks,
                ticktext=["%.2f" % v for v in yc_ticks], **ax_common, **yt),
    legend=dict(x=px_x(462), y=px_y(54), xanchor="left", yanchor="top",
                bgcolor="rgba(255,255,255,0.8)", bordercolor="#d0d0d0", borderwidth=1,
                font=legfont, traceorder="grouped", tracegroupgap=0, itemwidth=58),
    legend2=dict(x=px_x(462), y=px_y(849), xanchor="left", yanchor="top",
                 bgcolor="rgba(255,255,255,0.8)", bordercolor="#d0d0d0", borderwidth=1,
                 font=legfont, traceorder="grouped", tracegroupgap=0, itemwidth=58),
)

ann = []


def add_text(text, xp, yp, size=22, bold=False, angle=0, xanchor="center", family=FONT,
             color=TXT, italic=False):
    f = dict(family=family, size=size, color=color)
    if bold:
        f["weight"] = "bold"
    if italic:
        f["style"] = "italic"
    ann.append(dict(text=text, x=px_x(xp), y=px_y(yp), xref="paper", yref="paper",
                    xanchor=xanchor, yanchor="middle", showarrow=False, font=f, textangle=angle))


add_text("(a)", 34, 22, size=23, bold=True)
add_text("(b)", 877, 22, size=23, bold=True)
add_text("(c)", 35, 525, size=23, bold=True)
add_text("(d)", 877, 526, size=23, bold=True)
add_text("Year", 506, 508)
add_text("Day of year", 1112, 508)
add_text("Year", 506, 1009)
add_text("Day of year", 1112, 1009)
add_text("Number of detected features", 54, 252, angle=-90)
add_text("(normalized by no. of RGPS observations)", 79, 252, angle=-90)
add_text("Cumulative length of LKF system [km]", 66, 753, angle=-90)
add_text("(normalized by no. of RGPS observations)", 92, 753, angle=-90)
for i, line in enumerate(quote_lines):
    add_text(line, 984, 612 + i * 63.5, size=48, family="Open Sans", color="#3a3a3a",
             xanchor="left", italic=True)

fig.update_layout(annotations=ann)
fig.add_shape(type="rect", xref="paper", yref="paper", x0=px_x(962), x1=1.05,
              y0=px_y(904), y1=px_y(570), fillcolor="rgba(255,255,255,0.55)",
              line=dict(width=0), layer="above")

fig.write_html("out.html", config={"displayModeBar": False},
               post_script="document.body.style.margin='0';document.body.style.overflow='hidden';")
